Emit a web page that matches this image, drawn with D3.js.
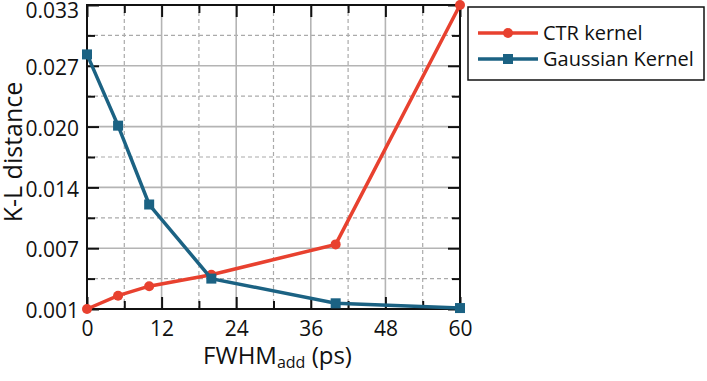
<!DOCTYPE html>
<html>
<head>
<meta charset="utf-8">
<script src="https://cdn.jsdelivr.net/npm/d3@7"></script>
<style>
  body { margin: 0; background: #fff; }
  svg text { font-family: "Open Sans", "Noto Sans", sans-serif; fill: #111; }
</style>
</head>
<body>
<div id="chart"></div>
<script>
// data
var fwhm = [0, 5, 10, 20, 40, 60];
var ctrKernel = [0.0010, 0.0024, 0.0034, 0.0046, 0.0078, 0.0330];
var gaussKernel = [0.0278, 0.0203, 0.0120, 0.0042, 0.0016, 0.0011];
var xTicks = [0, 12, 24, 36, 48, 60];
var yTicks = [0.001, 0.0074, 0.0138, 0.0202, 0.0266, 0.033];
var seriesNames = ['CTR kernel', 'Gaussian Kernel'];

var W = 707, H = 381;
var margin = { top: 5, right: 247, bottom: 72, left: 87 },
    width = W - margin.left - margin.right,
    height = H - margin.top - margin.bottom;

var svg = d3.select('#chart').append('svg')
    .attr('width', W)
    .attr('height', H);

var g = svg.append('g')
    .attr('transform', 'translate(' + margin.left + ',' + margin.top + ')');

var x = d3.scaleLinear().domain([0, 60]).range([0, width]);
var y = d3.scaleLinear().domain([0.001, 0.033]).range([height, 0]);

// minor positions halfway between major ticks
var xMinor = d3.range(xTicks.length - 1).map(function (i) { return (xTicks[i] + xTicks[i + 1]) / 2; });
var yMinor = d3.range(yTicks.length - 1).map(function (i) { return (yTicks[i] + yTicks[i + 1]) / 2; });

// grid lines
g.selectAll('.vminor').data(xMinor).enter().append('line')
    .attr('x1', x).attr('x2', x).attr('y1', 0).attr('y2', height)
    .attr('stroke', '#aaa').attr('stroke-width', 1.2).attr('stroke-dasharray', '4,3');
g.selectAll('.hminor').data(yMinor).enter().append('line')
    .attr('y1', y).attr('y2', y).attr('x1', 0).attr('x2', width)
    .attr('stroke', '#aaa').attr('stroke-width', 1.2).attr('stroke-dasharray', '4,3');
g.selectAll('.vmajor').data(xTicks).enter().append('line')
    .attr('x1', x).attr('x2', x).attr('y1', 0).attr('y2', height)
    .attr('stroke', '#b4b4b4').attr('stroke-width', 1.6);
g.selectAll('.hmajor').data(yTicks).enter().append('line')
    .attr('y1', y).attr('y2', y).attr('x1', 0).attr('x2', width)
    .attr('stroke', '#b4b4b4').attr('stroke-width', 1.6);

// inward ticks on all four sides, long at majors, short at minors
var sides = [
    { fn: d3.axisBottom, s: x, t: 'translate(0,' + height + ')', maj: xTicks, min: xMinor },
    { fn: d3.axisTop, s: x, t: 'translate(0,0)', maj: xTicks, min: xMinor },
    { fn: d3.axisLeft, s: y, t: 'translate(0,0)', maj: yTicks, min: yMinor },
    { fn: d3.axisRight, s: y, t: 'translate(' + width + ',0)', maj: yTicks, min: yMinor }
];
sides.forEach(function (sd) {
    [[sd.maj, 12], [sd.min, 8]].forEach(function (p) {
        var ax = g.append('g').attr('transform', sd.t)
            .call(sd.fn(sd.s).tickValues(p[0]).tickSize(-p[1]).tickFormat(''));
        ax.select('.domain').remove();
        ax.selectAll('line').attr('stroke', '#111').attr('stroke-width', 2);
    });
});

// frame
g.append('rect')
    .attr('x', 0).attr('y', 0).attr('width', width).attr('height', height)
    .attr('fill', 'none').attr('stroke', '#111').attr('stroke-width', 2);

// tick labels
var xl = g.append('g').attr('transform', 'translate(0,' + height + ')')
    .call(d3.axisBottom(x).tickValues(xTicks).tickSize(0).tickPadding(12).tickFormat(d3.format('d')));
xl.select('.domain').remove();
xl.selectAll('text').style('font-size', '21px');

var yl = g.append('g')
    .call(d3.axisLeft(y).tickValues(yTicks).tickSize(0).tickPadding(8).tickFormat(d3.format('.3f')));
yl.select('.domain').remove();
yl.selectAll('text').style('font-size', '21px')
    .attr('y', function (d, i) { return i === yTicks.length - 1 ? 6 : 2; });

// axis titles
var xt = svg.append('text')
    .attr('x', margin.left + width / 2 + 4)
    .attr('y', 364)
    .attr('text-anchor', 'middle')
    .style('font-size', '24px');
xt.append('tspan').text('FWHM');
xt.append('tspan').attr('dy', 4).style('font-size', '16px').text('add');
xt.append('tspan').attr('dy', -4).text(' (ps)');

svg.append('text')
    .attr('transform', 'translate(22,152) rotate(-90)')
    .attr('text-anchor', 'middle')
    .style('font-size', '25px')
    .text('K-L distance');

// lines and markers
var red = '#e8412f', blue = '#1b6283';
var line = d3.line()
    .x(function (d) { return x(d[0]); })
    .y(function (d) { return y(d[1]); });

var ctrData = fwhm.map(function (v, i) { return [v, ctrKernel[i]]; });
var gaussData = fwhm.map(function (v, i) { return [v, gaussKernel[i]]; });

g.append('path').datum(ctrData)
    .attr('d', line).attr('fill', 'none').attr('stroke', red).attr('stroke-width', 3.5);
g.selectAll('.dot').data(ctrData).enter().append('circle')
    .attr('cx', function (d) { return x(d[0]); })
    .attr('cy', function (d) { return y(d[1]); })
    .attr('r', 5).attr('fill', red);

g.append('path').datum(gaussData)
    .attr('d', line).attr('fill', 'none').attr('stroke', blue).attr('stroke-width', 3.5);
g.selectAll('.sq').data(gaussData).enter().append('rect')
    .attr('x', function (d) { return x(d[0]) - 5; })
    .attr('y', function (d) { return y(d[1]) - 5; })
    .attr('width', 10).attr('height', 10).attr('fill', blue);

// legend
var lg = svg.append('g').attr('transform', 'translate(468,7)');
lg.append('rect').attr('width', 236).attr('height', 73)
    .attr('fill', '#fff').attr('stroke', '#111').attr('stroke-width', 1.5);
seriesNames.forEach(function (name, i) {
    var yy = 26 + i * 26, c = i === 0 ? red : blue;
    lg.append('line').attr('x1', 10).attr('x2', 70).attr('y1', yy).attr('y2', yy)
        .attr('stroke', c).attr('stroke-width', 3.5);
    if (i === 0) {
        lg.append('circle').attr('cx', 40).attr('cy', yy).attr('r', 5).attr('fill', c);
    } else {
        lg.append('rect').attr('x', 35).attr('y', yy - 5).attr('width', 10).attr('height', 10).attr('fill', c);
    }
    lg.append('text').attr('x', 75).attr('y', yy + 7).style('font-size', '20px').text(name);
});
</script>
</body>
</html>
